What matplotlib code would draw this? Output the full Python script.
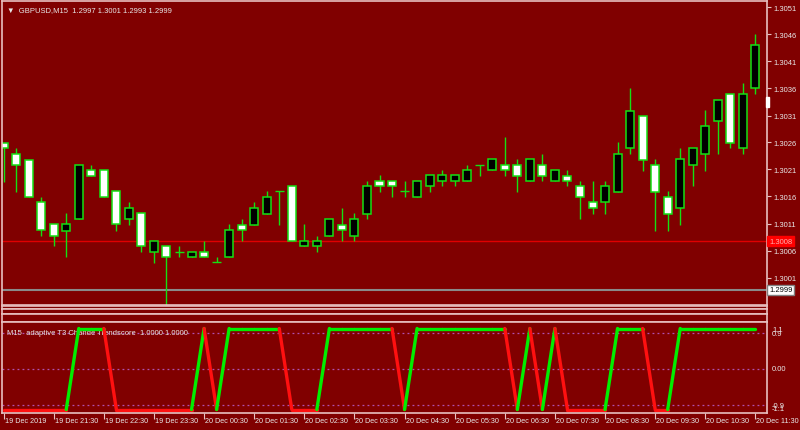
import matplotlib
matplotlib.use("Agg")
import matplotlib.pyplot as plt
import numpy as np

# ---- data ----
opens = [1.30259, 1.30239, 1.30228, 1.30149, 1.30109, 1.30097, 1.30118, 1.30209, 1.30209, 1.30170,
         1.30118, 1.30129, 1.30058, 1.30068, 1.30058, 1.30048, 1.30058, 1.30038, 1.30048, 1.30108,
         1.30108, 1.30128, 1.30170, 1.30179, 1.30068, 1.30068, 1.30087, 1.30108, 1.30087, 1.30128,
         1.30188, 1.30188, 1.30170, 1.30159, 1.30179, 1.30188, 1.30188, 1.30188, 1.30219, 1.30209,
         1.30218, 1.30218, 1.30188, 1.30218, 1.30188, 1.30198, 1.30179, 1.30149, 1.30149, 1.30169,
         1.30249, 1.30309, 1.30218, 1.30159, 1.30138, 1.30218, 1.30239, 1.30299, 1.30349, 1.30249,
         1.30360]
highs = [1.30259, 1.30249, 1.30228, 1.30159, 1.30109, 1.30129, 1.30219, 1.30219, 1.30209, 1.30170,
         1.30149, 1.30129, 1.30078, 1.30068, 1.30068, 1.30058, 1.30078, 1.30048, 1.30109, 1.30118,
         1.30149, 1.30170, 1.30170, 1.30179, 1.30109, 1.30087, 1.30118, 1.30139, 1.30129, 1.30189,
         1.30199, 1.30188, 1.30189, 1.30188, 1.30199, 1.30209, 1.30199, 1.30219, 1.30219, 1.30229,
         1.30270, 1.30229, 1.30229, 1.30239, 1.30209, 1.30209, 1.30189, 1.30189, 1.30189, 1.30260,
         1.30360, 1.30309, 1.30229, 1.30170, 1.30250, 1.30249, 1.30320, 1.30339, 1.30349, 1.30370,
         1.30461]
lows = [1.30187, 1.30169, 1.30159, 1.30087, 1.30068, 1.30048, 1.30118, 1.30198, 1.30159, 1.30097,
        1.30108, 1.30058, 1.30037, 1.29958, 1.30048, 1.30048, 1.30048, 1.30038, 1.30048, 1.30078,
        1.30108, 1.30128, 1.30108, 1.30078, 1.30068, 1.30058, 1.30087, 1.30078, 1.30078, 1.30118,
        1.30169, 1.30159, 1.30159, 1.30159, 1.30169, 1.30179, 1.30179, 1.30188, 1.30198, 1.30209,
        1.30198, 1.30169, 1.30188, 1.30188, 1.30188, 1.30179, 1.30118, 1.30128, 1.30128, 1.30169,
        1.30239, 1.30208, 1.30097, 1.30097, 1.30108, 1.30179, 1.30208, 1.30239, 1.30249, 1.30239,
        1.30350]
closes = [1.30249, 1.30218, 1.30159, 1.30098, 1.30087, 1.30109, 1.30219, 1.30198, 1.30159, 1.30109,
          1.30139, 1.30068, 1.30078, 1.30048, 1.30058, 1.30058, 1.30048, 1.30038, 1.30098, 1.30098,
          1.30139, 1.30159, 1.30170, 1.30078, 1.30078, 1.30078, 1.30118, 1.30098, 1.30118, 1.30179,
          1.30179, 1.30179, 1.30170, 1.30188, 1.30199, 1.30199, 1.30199, 1.30209, 1.30219, 1.30229,
          1.30209, 1.30198, 1.30229, 1.30198, 1.30209, 1.30188, 1.30159, 1.30139, 1.30179, 1.30239,
          1.30319, 1.30228, 1.30169, 1.30128, 1.30229, 1.30249, 1.30290, 1.30339, 1.30259, 1.30349,
          1.30440]
trend = [-1, -1, -1, -1, -1, -1, 1, 1, 1, -1,
         -1, -1, -1, -1, -1, -1, 1, -1, 1, 1,
         1, 1, 1, -1, -1, -1, 1, 1, 1, 1,
         1, 1, -1, 1, 1, 1, 1, 1, 1, 1,
         1, -1, 1, -1, 1, -1, -1, -1, -1, 1,
         1, 1, -1, -1, 1, 1, 1, 1, 1, 1,
         1]
price_ticks = [1.3001, 1.3006, 1.3011, 1.3016, 1.3021, 1.3026, 1.3031, 1.3036, 1.3041, 1.3046, 1.3051]
time_labels = ["19 Dec 2019", "19 Dec 21:30", "19 Dec 22:30", "19 Dec 23:30", "20 Dec 00:30",
               "20 Dec 01:30", "20 Dec 02:30", "20 Dec 03:30", "20 Dec 04:30", "20 Dec 05:30",
               "20 Dec 06:30", "20 Dec 07:30", "20 Dec 08:30", "20 Dec 09:30", "20 Dec 10:30",
               "20 Dec 11:30"]
ask_price = 1.30077
bid_price = 1.29987

BG = "#800000"
FRAME = "#e8c0c0"
TXT = "#e8e8e8"
GREEN = "#14e014"
FS = 5.5
plt.rcParams["font.family"] = ["Liberation Sans", "DejaVu Sans"]

W, H = 800, 431
fig = plt.figure(figsize=(W / 100, H / 100), dpi=100)
fig.patch.set_facecolor(BG)


def fx(x):
    return x / W


def fy(y):
    return 1 - y / H


def make_ax(x0, y0, x1, y1):
    a = fig.add_axes([fx(x0), fy(y1), fx(x1) - fx(x0), fy(y0) - fy(y1)])
    a.set_facecolor(BG)
    for s in a.spines.values():
        s.set_color(FRAME)
        s.set_linewidth(1.2)
    a.set_xticks([])
    a.set_yticks([])
    return a


n = len(opens)
x = np.arange(n)
# bar i sits at pixel 3.6 + 12.53*i ; axes span pixels 2..767
xl = (2 - 3.6) / 12.53
xr = (767 - 3.6) / 12.53

# ---- main price pane ----
ax = make_ax(2, 2, 767, 306)
ax.set_xlim(xl, xr)
ax.set_ylim(1.3051 - (306 - 8.5) / 54000, 1.3051 + (8.5 - 2) / 54000)

ax.axhline(ask_price, color="#e00000", lw=1, zorder=0)
ax.axhline(bid_price, color="#8a8a8a", lw=1.5, zorder=0)

ax.vlines(x, lows, highs, color=GREEN, lw=1, zorder=1)
for i in range(n):
    o, c = opens[i], closes[i]
    if abs(c - o) < 1e-6:
        ax.hlines(o, i - 0.36, i + 0.36, color=GREEN, lw=1, zorder=2)
        continue
    fill = "black" if c > o else "white"
    ax.bar(i, abs(c - o), bottom=min(o, c), width=0.64, color=fill,
           edgecolor=GREEN, linewidth=1.1, zorder=2)

ax.yaxis.tick_right()
ax.set_yticks(price_ticks)
ax.set_yticklabels(["%.4f" % p for p in price_ticks])
ax.tick_params(axis="y", colors=FRAME, length=3, labelsize=FS, labelcolor=TXT, pad=2)

ax.text(0.006, 0.985, "\u25bc  GBPUSD,M15  1.2997 1.3001 1.2993 1.2999", transform=ax.transAxes,
        color=TXT, fontsize=FS, va="top", ha="left")

# price labels on the right scale
fig.text(fx(769), fy(242.3), "1.3008", color="#ffb0b0", fontsize=FS, va="center", ha="left",
         bbox=dict(boxstyle="square,pad=0.2", fc="#ff0000", ec="#ff0000"))
fig.text(fx(769), fy(290.7), "1.2999", color="black", fontsize=FS, va="center", ha="left",
         bbox=dict(boxstyle="square,pad=0.2", fc="white", ec="#808080"))

# small empty panes between the price and indicator windows
for y0, y1 in [(307, 310), (310, 315), (315, 323)]:
    make_ax(2, y0, 767, y1)

# ---- indicator pane ----
ai = make_ax(2, 323.3, 767, 414)
ai.set_xlim(xl, xr)
ai.set_ylim(-(414 - 370) / 40.5, (370 - 323.3) / 40.5)
for lv in (0.9, 0.0, -0.9):
    ai.axhline(lv, color="#b050b0", lw=0.9, ls=(0, (1.5, 2.5)), zorder=0)
for i in range(1, n):
    col = "#00ee00" if trend[i] > 0 else "#ff1010"
    ai.plot([i - 1, i], [trend[i - 1], trend[i]], color=col, lw=2.4,
            solid_capstyle="round", zorder=2)
ai.text(0.006, 0.93, "M15  adaptive T3 Chande Trendscore  1.0000 1.0000", transform=ai.transAxes,
        color=TXT, fontsize=FS, va="top", ha="left", zorder=1)

for lab, yy in [("1.1", 331), ("0.9", 334), ("0.00", 370), ("-0.9", 406.5), ("-1.1", 409.5)]:
    fig.text(fx(772), fy(yy), lab, color=TXT, fontsize=FS, va="center", ha="left")

# ---- time axis ----
tick_bars = np.arange(0, n, 4)
ai.set_xticks(tick_bars)
ai.set_xticklabels([""] * len(tick_bars))
ai.tick_params(axis="x", colors=FRAME, length=4, direction="out")
for b, lab in zip(tick_bars, time_labels):
    px = 3.6 + 12.53 * b
    fig.text(fx(px + 1), fy(422), lab, color=TXT, fontsize=5.2, va="center", ha="left")

# chart-shift marker
fig.patches.append(plt.Rectangle((fx(766), fy(108)), fx(3), fy(98) - fy(108),
                                 transform=fig.transFigure, color="white"))

fig.savefig("out.png", dpi=100, facecolor=BG)
